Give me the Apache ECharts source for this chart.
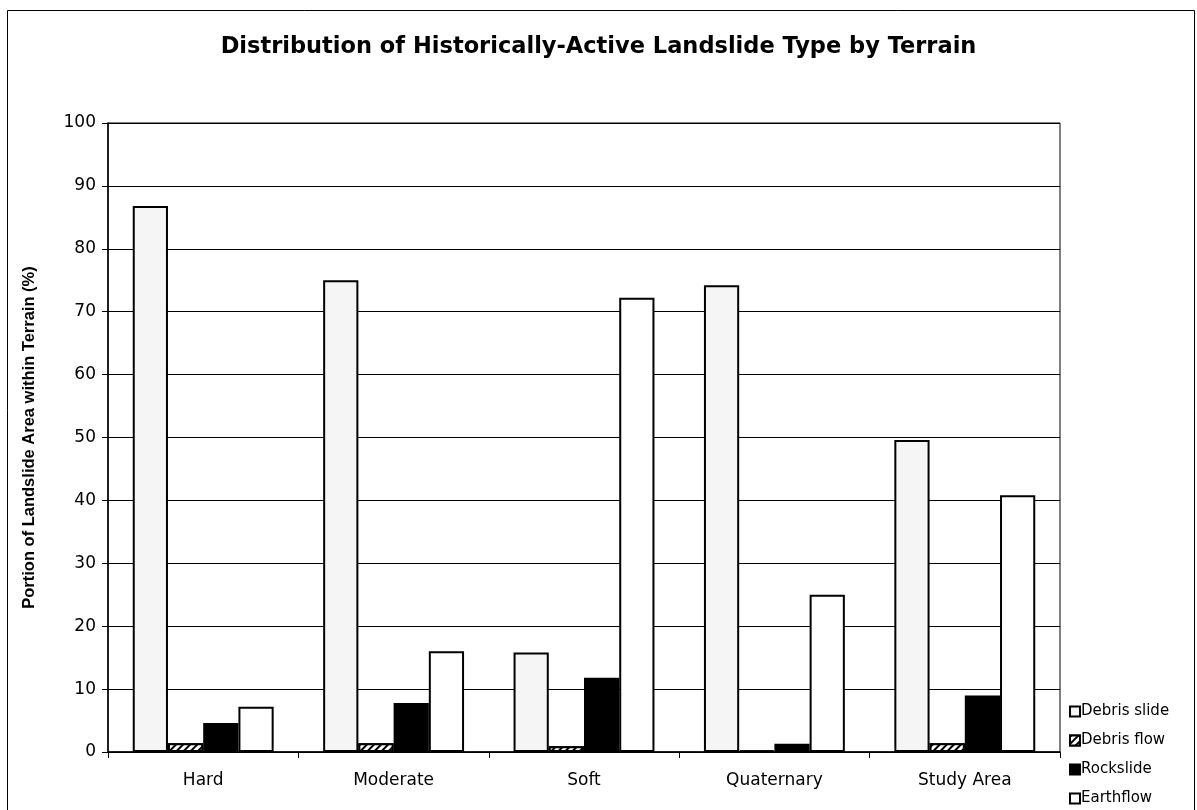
<!DOCTYPE html>
<html>
<head>
<meta charset="utf-8">
<style>
  html, body { margin: 0; padding: 0; background: #fff; }
  #chart { width: 1197px; height: 810px; }
</style>
<script src="https://cdn.jsdelivr.net/npm/echarts@6/dist/echarts.min.js"></script>
</head>
<body>
<div id="chart"></div>
<script>
// terrain categories
var terrains = ["Hard", "Moderate", "Soft", "Quaternary", "Study Area"];
// % of landslide area
var debrisSlide = [86.8, 75.0, 15.8, 74.2, 49.6];
var debrisFlow = [1.4, 1.4, 0.9, 0.2, 1.4];
var rockslide = [4.6, 7.8, 11.8, 1.3, 9.0];
var earthflow = [7.2, 16.0, 72.2, 25.0, 40.8];

var chart = echarts.init(document.getElementById("chart"));

var barBorder = { borderColor: "#000", borderWidth: 2 };

chart.setOption({
  backgroundColor: "#fff",
  animation: false,
  textStyle: { fontFamily: "DejaVu Sans, sans-serif" },
  title: {
    text: "Distribution of Historically-Active Landslide Type by Terrain",
    left: "center",
    top: 31,
    textStyle: { fontSize: 22.5, fontWeight: "bold", color: "#000", fontFamily: "DejaVu Sans" }
  },
  legend: {
    orient: "vertical",
    left: 1064,
    top: 699,
    height: 140,
    itemGap: 14,
    itemWidth: 10,
    itemHeight: 10,
    icon: "rect",
    textStyle: { fontSize: 15, color: "#000", padding: [0, 0, 0, -4] },
    data: ["Debris slide", "Debris flow", "Rockslide", "Earthflow"]
  },
  grid: {
    left: 108,
    right: 137,
    top: 123,
    bottom: 58,
    show: true,
    borderColor: "#000",
    borderWidth: 1
  },
  xAxis: {
    type: "category",
    data: terrains,
    axisLine: { lineStyle: { color: "#000", width: 1.5 } },
    axisTick: { show: true, length: 6, lineStyle: { color: "#000" } },
    axisLabel: { color: "#000", fontSize: 17, margin: 20 }
  },
  yAxis: {
    type: "value",
    min: 0,
    max: 100,
    interval: 10,
    name: "Portion of Landslide Area within Terrain (%)",
    nameLocation: "middle",
    nameGap: 70,
    nameTextStyle: { fontSize: 16.5, fontWeight: "bold", color: "#000", fontFamily: "Liberation Sans, Arial" },
    axisLine: { show: true, lineStyle: { color: "#000", width: 1.5 } },
    axisTick: { show: true, length: 6, lineStyle: { color: "#000" } },
    axisLabel: { color: "#000", fontSize: 17, margin: 12 },
    splitLine: { lineStyle: { color: "#000", width: 1 } }
  },
  series: [
    {
      name: "Debris slide",
      type: "bar",
      data: debrisSlide,
      barGap: "0%",
      barCategoryGap: "26%",
      itemStyle: Object.assign({ color: "#f5f5f5" }, barBorder)
    },
    {
      name: "Debris flow",
      type: "bar",
      data: debrisFlow,
      itemStyle: Object.assign({
        color: "#fff",
        decal: {
          symbol: "rect",
          symbolSize: 1,
          color: "#000",
          dashArrayX: [1, 0],
          dashArrayY: [2, 3],
          rotation: -Math.PI / 4,
          backgroundColor: "#fff"
        }
      }, barBorder)
    },
    {
      name: "Rockslide",
      type: "bar",
      data: rockslide,
      itemStyle: Object.assign({ color: "#000" }, barBorder)
    },
    {
      name: "Earthflow",
      type: "bar",
      data: earthflow,
      itemStyle: Object.assign({ color: "#fff" }, barBorder)
    }
  ],
  graphic: [
    {
      type: "rect",
      left: 5,
      top: 8,
      shape: { width: 1187, height: 810 },
      style: { fill: "none", stroke: "#000", lineWidth: 1 },
      silent: true,
      z: -1
    }
  ]
});
</script>
</body>
</html>
